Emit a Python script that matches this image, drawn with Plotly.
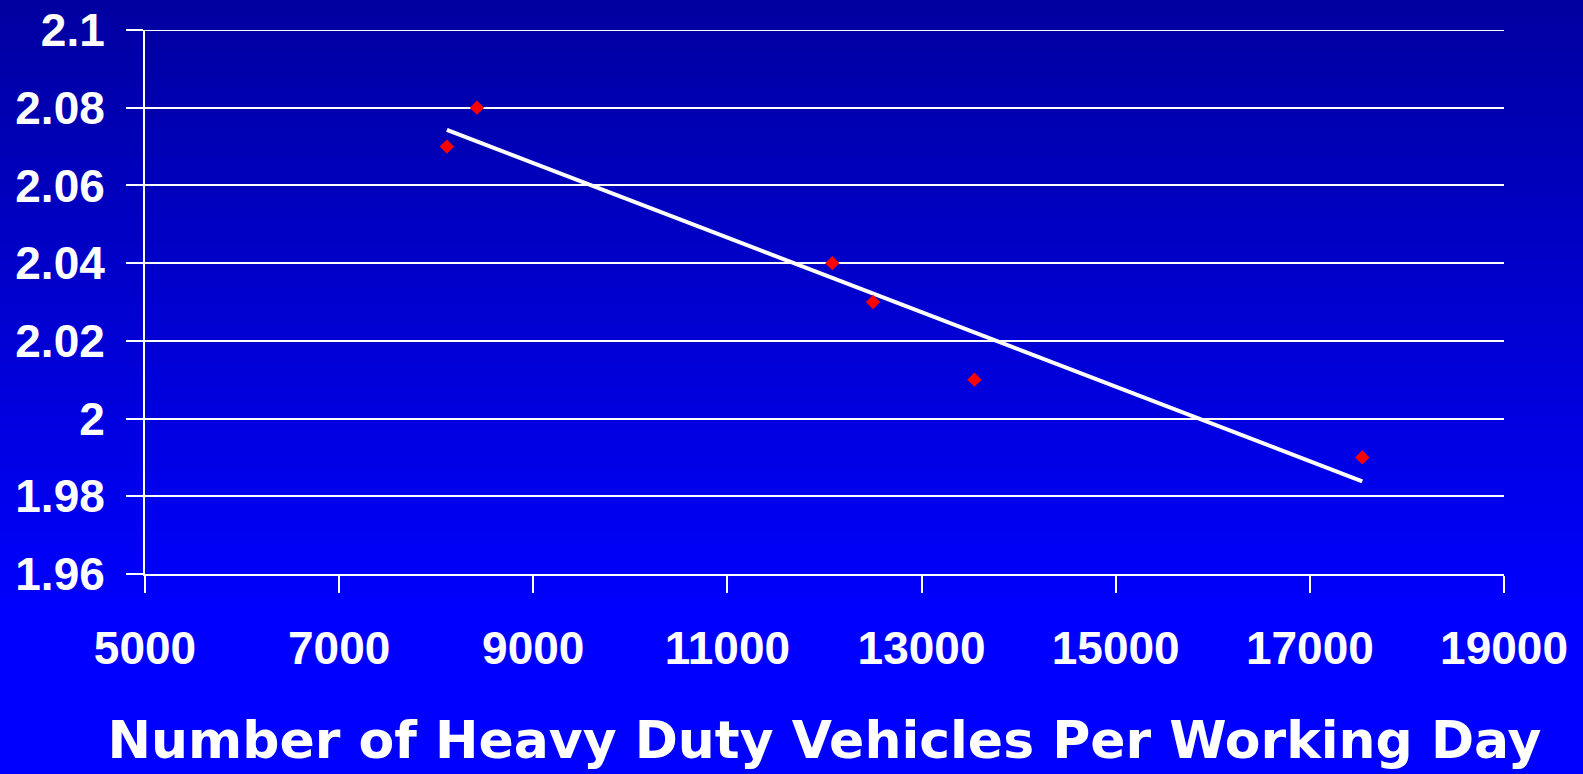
import base64, struct, zlib
import numpy as np
import plotly.graph_objects as go

# ---- data ----
vehicles = [8110, 8420, 12080, 12500, 13545, 17540]
values = [2.07, 2.08, 2.04, 2.03, 2.01, 1.99]
x_ticks = [5000, 7000, 9000, 11000, 13000, 15000, 17000, 19000]
y_ticks = [1.96, 1.98, 2.00, 2.02, 2.04, 2.06, 2.08, 2.10]
y_tick_text = ["1.96", "1.98", "2", "2.02", "2.04", "2.06", "2.08", "2.1"]
x_title = "Number of Heavy Duty Vehicles Per Working Day"

# linear trendline (least squares) spanning the data range
slope, intercept = np.polyfit(vehicles, values, 1)
trend_x = [min(vehicles), max(vehicles)]
trend_y = [slope * v + intercept for v in trend_x]

W, H = 1583, 774
L, R, T, B = 145, 79, 30, 200
pw, ph = W - L - R, H - T - B


def gradient_png(h=256):
    rows = b""
    for i in range(h):
        f = i / (h - 1)
        b = int(round(160 + 95 * min(1.0, f / 0.8)))
        rows += b"\x00" + bytes([0, 0, b])
    def chunk(t, d):
        c = struct.pack(">I", len(d)) + t + d
        return c + struct.pack(">I", zlib.crc32(t + d) & 0xffffffff)
    png = b"\x89PNG\r\n\x1a\n"
    png += chunk(b"IHDR", struct.pack(">IIBBBBB", 1, h, 8, 2, 0, 0, 0))
    png += chunk(b"IDAT", zlib.compress(rows))
    png += chunk(b"IEND", b"")
    return "data:image/png;base64," + base64.b64encode(png).decode()


fig = go.Figure()
fig.add_trace(go.Scatter(x=trend_x, y=trend_y, mode="lines",
                         line=dict(color="white", width=4), showlegend=False,
                         hoverinfo="skip"))
fig.add_trace(go.Scatter(x=vehicles, y=values, mode="markers",
                         marker=dict(symbol="diamond", color="#FF0000", size=11,
                                     line=dict(width=0)),
                         showlegend=False))

tickfont = dict(family="Liberation Sans, Arial, sans-serif", size=46,
                color="white", weight="bold")

fig.update_layout(
    width=W, height=H,
    autosize=False,
    margin=dict(l=L, r=R, t=T, b=B, pad=0, autoexpand=False),
    paper_bgcolor="#0000FF",
    plot_bgcolor="rgba(0,0,0,0)",
    images=[dict(source=gradient_png(), xref="paper", yref="paper",
                 x=-L / pw, y=1 + T / ph, sizex=W / pw, sizey=H / ph,
                 xanchor="left", yanchor="top", sizing="stretch",
                 layer="below")],
    shapes=[dict(type="line", xref="paper", yref="y", x0=-17 / pw, x1=1,
                 y0=y_ticks[-1], y1=y_ticks[-1],
                 line=dict(color="white", width=2))],
    xaxis=dict(range=[5000, 19000], tickvals=x_ticks,
               ticktext=[str(v) for v in x_ticks], automargin=False,
               showgrid=False, zeroline=False,
               showline=True, linecolor="white", linewidth=2,
               ticks="outside", ticklen=17, tickwidth=2, tickcolor="white",
               tickfont=tickfont, ticklabelstandoff=16,
               title=dict(text=x_title, standoff=48,
                          font=dict(family="DejaVu Sans, Verdana, sans-serif",
                                    size=52, color="white", weight="bold"))),
    yaxis=dict(range=[1.96, 2.10], tickvals=y_ticks, ticktext=y_tick_text,
               automargin=False,
               showgrid=True, gridcolor="white", gridwidth=2,
               zeroline=False, showline=True, linecolor="white", linewidth=2,
               ticks="outside", ticklen=17, tickwidth=2, tickcolor="white",
               tickfont=tickfont, ticklabelstandoff=12),
)

fig.write_html("out.html", config={"displayModeBar": False},
               post_script="document.body.style.margin='0';"
                           "document.body.style.overflow='hidden';")
